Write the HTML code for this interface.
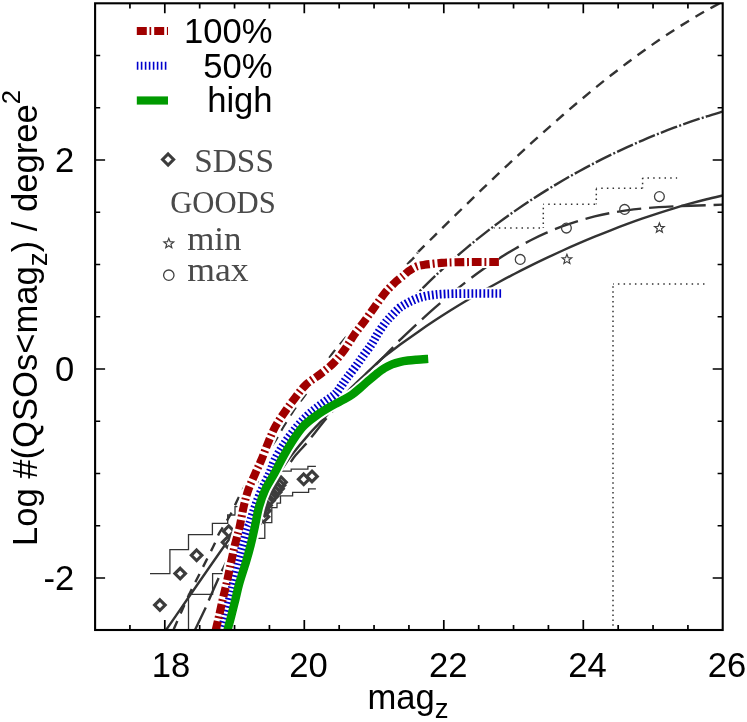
<!DOCTYPE html>
<html><head><meta charset="utf-8"><title>QSO counts</title>
<style>html,body{margin:0;padding:0;background:#fff;}svg{display:block;will-change:transform;}text{font-family:"Liberation Sans",sans-serif;fill:#000;}.sf{font-family:"Liberation Serif",serif;fill:#4a4a4a;}</style></head><body>
<svg width="747" height="722" viewBox="0 0 747 722">
<rect width="747" height="722" fill="#fff"/>
<defs><clipPath id="cp"><rect x="95.10" y="3.30" width="627.60" height="626.70"/></clipPath></defs>
<g clip-path="url(#cp)" fill="none">
<path d="M150.00,573.70 L169.90,573.70 L169.90,549.60 L188.50,549.60 L188.50,534.70 L212.40,534.70 L212.40,523.30 L227.70,523.30 L227.70,515.00 L235.00,515.00 L235.00,506.70 L243.00,506.70 L243.00,495.00 L250.00,495.00 L250.00,482.00 L265.00,482.00 L265.00,471.10 L291.20,471.10 L291.20,469.10 L307.90,469.10 L307.90,466.30 L315.90,466.30" stroke="#333333" stroke-width="1.3"/>
<path d="M188.50,630.00 L188.50,594.30 L212.60,594.30 L212.60,573.70 L228.00,573.70 L228.00,556.00 L245.00,556.00 L245.00,538.40 L264.80,538.40 L264.80,522.60 L271.80,522.60 L271.80,507.60 L277.00,507.60 L277.00,503.20 L280.50,503.20 L280.50,495.80 L292.60,495.80 L292.60,492.40 L308.60,492.40 L308.60,488.90 L315.90,488.90" stroke="#333333" stroke-width="1.3"/>
<path d="M493.90,228.10 L543.30,228.10" stroke="#333333" stroke-width="1.5" stroke-dasharray="1.5 4.17" stroke-dashoffset="0.75"/>
<path d="M543.30,228.10 L543.30,204.20" stroke="#333333" stroke-width="1.5" stroke-dasharray="1.5 3.40" stroke-dashoffset="0.75"/>
<path d="M543.30,204.20 L596.30,204.20" stroke="#333333" stroke-width="1.5" stroke-dasharray="1.5 4.17" stroke-dashoffset="0.75"/>
<path d="M596.30,204.20 L596.30,188.30" stroke="#333333" stroke-width="1.5" stroke-dasharray="1.5 3.40" stroke-dashoffset="0.75"/>
<path d="M596.30,188.30 L642.60,188.30" stroke="#333333" stroke-width="1.5" stroke-dasharray="1.5 4.17" stroke-dashoffset="0.75"/>
<path d="M642.60,188.30 L642.60,178.10" stroke="#333333" stroke-width="1.5" stroke-dasharray="1.5 3.40" stroke-dashoffset="0.75"/>
<path d="M642.60,178.10 L677.10,178.10" stroke="#333333" stroke-width="1.5" stroke-dasharray="1.5 4.17" stroke-dashoffset="0.75"/>
<path d="M613.00,630.00 L613.00,284.00" stroke="#333333" stroke-width="1.5" stroke-dasharray="1.5 3.40" stroke-dashoffset="0.75"/>
<path d="M613.00,284.00 L705.20,284.00" stroke="#333333" stroke-width="1.5" stroke-dasharray="1.5 4.17" stroke-dashoffset="0.75"/>
<path d="M722.70,1.70 C720.03,3.14 712.03,7.33 706.70,10.33 C701.37,13.32 696.03,16.44 690.70,19.66 C685.37,22.88 680.03,26.21 674.70,29.65 C669.37,33.09 664.03,36.63 658.70,40.27 C653.37,43.91 648.03,47.66 642.70,51.49 C637.37,55.32 632.03,59.25 626.70,63.27 C621.37,67.28 616.03,71.39 610.70,75.57 C605.37,79.75 600.03,84.02 594.70,88.36 C589.37,92.70 584.03,97.12 578.70,101.61 C573.37,106.09 568.03,110.66 562.70,115.28 C557.37,119.90 552.03,124.59 546.70,129.33 C541.37,134.07 536.03,138.88 530.70,143.73 C525.37,148.58 520.03,153.50 514.70,158.45 C509.37,163.40 504.03,168.41 498.70,173.45 C493.37,178.49 488.03,183.58 482.70,188.69 C477.37,193.81 472.03,198.97 466.70,204.15 C461.37,209.33 456.03,214.54 450.70,219.78 C445.37,225.01 440.03,230.28 434.70,235.55 C429.37,240.83 421.48,248.67 418.70,251.43 C415.92,254.19 418.90,250.98 418.00,252.12 C417.10,253.27 415.05,256.29 413.30,258.30 C411.55,260.31 412.22,258.75 407.50,264.20 C402.78,269.65 392.92,281.62 385.00,291.00 C377.08,300.38 367.17,312.00 360.00,320.50 C352.83,329.00 346.83,336.17 342.00,342.00 C337.17,347.83 335.33,349.58 331.00,355.50 C326.67,361.42 320.35,370.85 316.00,377.50 C311.65,384.15 307.72,391.18 304.90,395.40 C302.08,399.62 301.25,399.87 299.10,402.80 C296.95,405.73 294.68,408.88 292.00,413.00 C289.32,417.12 285.70,423.00 283.00,427.50 C280.30,432.00 278.80,435.42 275.80,440.00 C272.80,444.58 268.47,450.17 265.00,455.00 C261.53,459.83 256.67,466.67 255.00,469.00" stroke="#333333" stroke-width="2.4" stroke-dasharray="9.9 7.5" stroke-dashoffset="13.55"/>
<path d="M173.70,629.30 C176.08,623.92 183.45,606.72 188.00,597.00 C192.55,587.28 196.58,579.83 201.00,571.00 C205.42,562.17 211.67,549.92 214.50,544.00 C217.33,538.08 216.65,538.23 218.00,535.50 C219.35,532.77 220.40,531.32 222.60,527.60 C224.80,523.88 228.57,518.13 231.20,513.20 C233.83,508.27 235.93,502.87 238.40,498.00 C240.87,493.13 243.23,488.83 246.00,484.00 C248.77,479.17 253.50,471.50 255.00,469.00" stroke="#333333" stroke-width="2.4" stroke-dasharray="9.3 8"/>
<path d="M722.70,111.60 C720.03,112.41 712.03,114.75 706.70,116.44 C701.37,118.13 696.03,119.89 690.70,121.73 C685.37,123.57 680.03,125.49 674.70,127.48 C669.37,129.47 664.03,131.53 658.70,133.67 C653.37,135.80 648.03,138.01 642.70,140.30 C637.37,142.59 632.03,144.95 626.70,147.39 C621.37,149.82 616.03,152.34 610.70,154.93 C605.37,157.53 600.03,160.20 594.70,162.96 C589.37,165.71 584.03,168.55 578.70,171.48 C573.37,174.41 568.03,177.42 562.70,180.52 C557.37,183.63 552.03,186.82 546.70,190.12 C541.37,193.42 536.03,196.81 530.70,200.31 C525.37,203.81 520.03,207.41 514.70,211.12 C509.37,214.84 504.03,218.66 498.70,222.62 C493.37,226.57 488.03,230.63 482.70,234.83 C477.37,239.03 472.03,243.36 466.70,247.83 C461.37,252.30 456.03,256.90 450.70,261.66 C445.37,266.43 439.65,271.72 434.70,276.41 C429.75,281.09 424.62,286.28 421.00,289.80 C417.38,293.32 415.63,295.58 413.00,297.50 C410.37,299.42 406.50,300.67 405.20,301.30" stroke="#333333" stroke-width="2.4" stroke-dasharray="17.4 2.2 2.05 2.2" stroke-dashoffset="23.55"/>
<path d="M722.70,204.60 C720.03,204.70 712.03,205.03 706.70,205.21 C701.37,205.39 696.03,205.52 690.70,205.70 C685.37,205.87 680.03,206.03 674.70,206.27 C669.37,206.51 664.03,206.76 658.70,207.12 C653.37,207.48 648.03,207.88 642.70,208.42 C637.37,208.95 632.03,209.56 626.70,210.32 C621.37,211.07 616.03,211.93 610.70,212.95 C605.37,213.96 600.03,215.11 594.70,216.42 C589.37,217.73 584.03,219.19 578.70,220.83 C573.37,222.46 568.03,224.26 562.70,226.24 C557.37,228.22 552.03,230.38 546.70,232.72 C541.37,235.06 536.03,237.58 530.70,240.28 C525.37,242.99 520.03,245.88 514.70,248.95 C509.37,252.02 504.03,255.28 498.70,258.72 C493.37,262.15 488.03,265.77 482.70,269.55 C477.37,273.33 472.03,277.30 466.70,281.41 C461.37,285.52 456.03,289.80 450.70,294.22 C445.37,298.63 440.03,303.21 434.70,307.90 C429.37,312.59 424.03,317.42 418.70,322.34 C413.37,327.26 406.15,334.15 402.70,337.42 C399.25,340.68 399.70,340.20 398.00,341.94 C396.30,343.69 396.33,343.97 392.50,347.90 C388.67,351.83 380.42,359.98 375.00,365.50 C369.58,371.02 362.50,378.42 360.00,381.00" stroke="#333333" stroke-width="2.4" stroke-dasharray="24.4 7.9" stroke-dashoffset="15.3"/>
<path d="M195.10,629.70 C196.82,626.13 203.13,613.18 205.40,608.30 C207.67,603.42 206.55,605.33 208.70,600.40 C210.85,595.47 215.87,584.10 218.30,578.70 C220.73,573.30 220.47,573.58 223.30,568.00 C226.13,562.42 230.80,553.25 235.30,545.20 C239.80,537.15 245.85,527.23 250.30,519.70 C254.75,512.17 260.05,503.28 262.00,500.00" stroke="#333333" stroke-width="2.4" stroke-dasharray="24.4 7.8"/>
<path d="M290.70,462.00 C291.55,460.83 293.15,458.13 295.80,455.00 C298.45,451.87 304.03,446.13 306.60,443.20 C309.17,440.27 307.95,441.48 311.20,437.40 C314.45,433.32 321.30,424.47 326.10,418.70 C330.90,412.93 336.02,407.28 340.00,402.80 C343.98,398.32 346.67,395.43 350.00,391.80 C353.33,388.17 358.33,382.80 360.00,381.00" stroke="#333333" stroke-width="2.4" stroke-dasharray="24.4 7.8"/>
<path d="M722.70,195.48 C720.03,196.11 712.03,197.92 706.70,199.25 C701.37,200.58 696.03,201.99 690.70,203.46 C685.37,204.93 680.03,206.47 674.70,208.08 C669.37,209.68 664.03,211.36 658.70,213.09 C653.37,214.82 648.03,216.61 642.70,218.46 C637.37,220.31 632.03,222.23 626.70,224.19 C621.37,226.16 616.03,228.18 610.70,230.26 C605.37,232.34 600.03,234.48 594.70,236.67 C589.37,238.86 584.03,241.10 578.70,243.41 C573.37,245.71 568.03,248.06 562.70,250.47 C557.37,252.89 552.03,255.36 546.70,257.88 C541.37,260.41 536.03,262.99 530.70,265.64 C525.37,268.29 520.03,270.99 514.70,273.76 C509.37,276.53 504.03,279.36 498.70,282.26 C493.37,285.16 488.03,288.12 482.70,291.16 C477.37,294.20 472.03,297.31 466.70,300.50 C461.37,303.68 456.03,306.94 450.70,310.29 C445.37,313.64 440.03,317.06 434.70,320.58 C429.37,324.10 424.03,327.70 418.70,331.41 C413.37,335.12 408.03,338.91 402.70,342.82 C397.37,346.73 390.32,352.11 386.70,354.85 C383.08,357.60 384.62,356.03 381.00,359.30 C377.38,362.58 369.90,369.82 365.00,374.50 C360.10,379.18 356.10,382.73 351.60,387.40 C347.10,392.07 342.45,397.50 338.00,402.50 C333.55,407.50 329.72,412.13 324.90,417.40 C320.08,422.67 314.63,427.83 309.10,434.10 C303.57,440.37 296.28,449.10 291.70,455.00 C287.12,460.90 286.05,463.33 281.60,469.50 C277.15,475.67 270.27,484.92 265.00,492.00 C259.73,499.08 256.55,503.33 250.00,512.00 C243.45,520.67 239.63,524.42 225.70,544.00 C211.77,563.58 177.50,613.50 166.40,629.50 C155.30,645.50 160.32,638.25 159.10,640.00" stroke="#333333" stroke-width="2.4"/>
<path d="M159.90,599.80 L165.20,605.10 L159.90,610.40 L154.60,605.10 Z" fill="none" stroke="#3c3c3c" stroke-width="3.10" stroke-linejoin="miter"/>
<path d="M180.20,568.30 L185.50,573.60 L180.20,578.90 L174.90,573.60 Z" fill="none" stroke="#3c3c3c" stroke-width="3.10" stroke-linejoin="miter"/>
<path d="M196.60,550.00 L201.90,555.30 L196.60,560.60 L191.30,555.30 Z" fill="none" stroke="#3c3c3c" stroke-width="3.10" stroke-linejoin="miter"/>
<path d="M227.60,536.90 L232.90,542.20 L227.60,547.50 L222.30,542.20 Z" fill="none" stroke="#3c3c3c" stroke-width="3.10" stroke-linejoin="miter"/>
<path d="M228.70,525.90 L234.00,531.20 L228.70,536.50 L223.40,531.20 Z" fill="none" stroke="#3c3c3c" stroke-width="3.10" stroke-linejoin="miter"/>
<path d="M303.70,474.00 L309.00,479.30 L303.70,484.60 L298.40,479.30 Z" fill="none" stroke="#3c3c3c" stroke-width="3.10" stroke-linejoin="miter"/>
<path d="M312.00,471.10 L317.30,476.40 L312.00,481.70 L306.70,476.40 Z" fill="none" stroke="#3c3c3c" stroke-width="3.10" stroke-linejoin="miter"/>
<path d="M255.00,518.50 L260.30,523.80 L255.00,529.10 L249.70,523.80 Z" fill="none" stroke="#3c3c3c" stroke-width="3.10" stroke-linejoin="miter"/>
<path d="M263.50,511.50 L268.80,516.80 L263.50,522.10 L258.20,516.80 Z" fill="none" stroke="#3c3c3c" stroke-width="3.10" stroke-linejoin="miter"/>
<path d="M264.80,505.40 L270.10,510.70 L264.80,516.00 L259.50,510.70 Z" fill="none" stroke="#3c3c3c" stroke-width="3.10" stroke-linejoin="miter"/>
<path d="M266.00,500.10 L271.30,505.40 L266.00,510.70 L260.70,505.40 Z" fill="none" stroke="#3c3c3c" stroke-width="3.10" stroke-linejoin="miter"/>
<path d="M269.00,495.30 L274.30,500.60 L269.00,505.90 L263.70,500.60 Z" fill="none" stroke="#3c3c3c" stroke-width="3.10" stroke-linejoin="miter"/>
<path d="M272.50,491.00 L277.80,496.30 L272.50,501.60 L267.20,496.30 Z" fill="none" stroke="#3c3c3c" stroke-width="3.10" stroke-linejoin="miter"/>
<path d="M275.50,487.00 L280.80,492.30 L275.50,497.60 L270.20,492.30 Z" fill="none" stroke="#3c3c3c" stroke-width="3.10" stroke-linejoin="miter"/>
<path d="M278.00,483.40 L283.30,488.70 L278.00,494.00 L272.70,488.70 Z" fill="none" stroke="#3c3c3c" stroke-width="3.10" stroke-linejoin="miter"/>
<path d="M279.50,480.00 L284.80,485.30 L279.50,490.60 L274.20,485.30 Z" fill="none" stroke="#3c3c3c" stroke-width="3.10" stroke-linejoin="miter"/>
<path d="M281.00,476.90 L286.30,482.20 L281.00,487.50 L275.70,482.20 Z" fill="none" stroke="#3c3c3c" stroke-width="3.10" stroke-linejoin="miter"/>
<circle cx="520.20" cy="259.40" r="4.90" fill="none" stroke="#404040" stroke-width="1.30"/>
<circle cx="566.40" cy="228.10" r="4.90" fill="none" stroke="#404040" stroke-width="1.30"/>
<circle cx="624.60" cy="209.40" r="4.90" fill="none" stroke="#404040" stroke-width="1.30"/>
<circle cx="659.40" cy="196.60" r="4.90" fill="none" stroke="#404040" stroke-width="1.30"/>
<polygon points="566.90,254.30 568.19,257.62 571.75,257.82 568.99,260.08 569.90,263.53 566.90,261.60 563.90,263.53 564.81,260.08 562.05,257.82 565.61,257.62" fill="none" stroke="#404040" stroke-width="1.20" stroke-linejoin="miter"/>
<polygon points="659.40,223.00 660.69,226.32 664.25,226.52 661.49,228.78 662.40,232.23 659.40,230.30 656.40,232.23 657.31,228.78 654.55,226.52 658.11,226.32" fill="none" stroke="#404040" stroke-width="1.20" stroke-linejoin="miter"/>
<path d="M219.50,641.00 C219.92,639.00 221.03,633.07 222.00,629.00 C222.97,624.93 224.08,621.45 225.30,616.60 C226.52,611.75 227.97,605.45 229.30,599.90 C230.63,594.35 231.77,589.68 233.30,583.30 C234.83,576.92 236.92,568.00 238.50,561.60 C240.08,555.20 241.28,550.45 242.80,544.90 C244.32,539.35 246.45,531.92 247.60,528.30 C248.75,524.68 248.45,526.82 249.70,523.20 C250.95,519.58 253.10,512.15 255.10,506.60 C257.10,501.05 259.28,495.45 261.70,489.90 C264.12,484.35 267.42,478.30 269.60,473.30 C271.78,468.30 272.30,464.92 274.80,459.90 C277.30,454.88 280.88,448.75 284.60,443.20 C288.32,437.65 293.28,431.22 297.10,426.60 C300.92,421.98 304.27,418.62 307.50,415.50 C310.73,412.38 313.45,410.33 316.50,407.90 C319.55,405.47 322.68,403.22 325.80,400.90 C328.92,398.58 332.63,396.48 335.20,394.00 C337.77,391.52 339.23,388.70 341.20,386.00 C343.17,383.30 344.65,380.97 347.00,377.80 C349.35,374.63 352.53,370.75 355.30,367.00 C358.07,363.25 360.83,359.18 363.60,355.30 C366.37,351.42 369.42,347.52 371.90,343.70 C374.38,339.88 376.05,336.17 378.50,332.40 C380.95,328.63 384.27,324.03 386.60,321.10 C388.93,318.17 390.45,316.92 392.50,314.80 C394.55,312.68 396.68,310.22 398.90,308.40 C401.12,306.58 403.50,305.23 405.80,303.90 C408.10,302.57 410.40,301.43 412.70,300.40 C415.00,299.37 417.28,298.45 419.60,297.70 C421.92,296.95 424.28,296.37 426.60,295.90 C428.92,295.43 431.15,295.18 433.50,294.90 C435.85,294.62 437.42,294.40 440.70,294.20 C443.98,294.00 447.48,293.82 453.20,293.70 C458.92,293.58 467.02,293.53 475.00,293.50 C482.98,293.47 496.75,293.50 501.10,293.50" stroke="#fff" stroke-width="12.2"/>
<path d="M213.30,641.00 C213.75,639.00 215.07,633.07 216.00,629.00 C216.93,624.93 217.80,621.45 218.90,616.60 C220.00,611.75 221.32,605.45 222.60,599.90 C223.88,594.35 225.17,589.68 226.60,583.30 C228.03,576.92 229.82,568.00 231.20,561.60 C232.58,555.20 233.55,550.45 234.90,544.90 C236.25,539.35 237.83,534.68 239.30,528.30 C240.77,521.92 242.20,513.00 243.70,506.60 C245.20,500.20 246.37,495.45 248.30,489.90 C250.23,484.35 253.12,478.30 255.30,473.30 C257.48,468.30 259.30,464.92 261.40,459.90 C263.50,454.88 265.58,448.75 267.90,443.20 C270.22,437.65 272.45,431.87 275.30,426.60 C278.15,421.33 281.65,416.47 285.00,411.60 C288.35,406.73 291.87,401.92 295.40,397.40 C298.93,392.88 302.02,388.40 306.20,384.50 C310.38,380.60 315.92,377.62 320.50,374.00 C325.08,370.38 329.63,366.95 333.70,362.80 C337.77,358.65 341.42,353.87 344.90,349.10 C348.38,344.33 351.33,338.87 354.60,334.20 C357.87,329.53 361.12,325.70 364.50,321.10 C367.88,316.50 371.43,311.37 374.90,306.60 C378.37,301.83 382.52,295.97 385.30,292.50 C388.08,289.03 389.82,287.63 391.60,285.80 C393.38,283.97 394.07,283.17 396.00,281.50 C397.93,279.83 401.22,277.43 403.20,275.80 C405.18,274.17 405.80,273.20 407.90,271.70 C410.00,270.20 413.03,267.95 415.80,266.80 C418.57,265.65 420.22,265.45 424.50,264.80 C428.78,264.15 436.42,263.32 441.50,262.90 C446.58,262.48 449.42,262.45 455.00,262.30 C460.58,262.15 467.68,262.05 475.00,262.00 C482.32,261.95 494.92,262.00 498.90,262.00" stroke="#fff" stroke-width="12.2"/>
<path d="M225.00,641.00 C225.47,639.00 226.78,633.07 227.80,629.00 C228.82,624.93 229.85,621.45 231.10,616.60 C232.35,611.75 233.93,605.45 235.30,599.90 C236.67,594.35 237.50,589.68 239.30,583.30 C241.10,576.92 244.20,568.00 246.10,561.60 C248.00,555.20 249.30,550.45 250.70,544.90 C252.10,539.35 253.10,534.68 254.50,528.30 C255.90,521.92 257.33,513.00 259.10,506.60 C260.87,500.20 262.53,495.45 265.10,489.90 C267.67,484.35 271.78,478.30 274.50,473.30 C277.22,468.30 278.63,464.92 281.40,459.90 C284.17,454.88 287.68,448.53 291.10,443.20 C294.52,437.87 298.93,431.57 301.90,427.90 C304.87,424.23 306.58,423.18 308.90,421.20 C311.22,419.22 313.50,417.65 315.80,416.00 C318.10,414.35 320.40,412.78 322.70,411.30 C325.00,409.82 327.28,408.43 329.60,407.10 C331.92,405.77 334.28,404.53 336.60,403.30 C338.92,402.07 340.92,401.15 343.50,399.70 C346.08,398.25 349.32,396.55 352.10,394.60 C354.88,392.65 357.52,390.28 360.20,388.00 C362.88,385.72 365.53,383.20 368.20,380.90 C370.87,378.60 373.52,376.32 376.20,374.20 C378.88,372.08 381.67,369.85 384.30,368.20 C386.93,366.55 389.33,365.37 392.00,364.30 C394.67,363.23 397.63,362.43 400.30,361.80 C402.97,361.17 405.32,360.85 408.00,360.50 C410.68,360.15 413.03,359.97 416.40,359.70 C419.77,359.43 426.23,359.03 428.20,358.90" stroke="#fff" stroke-width="12.2"/>
<path d="M501.10,293.50 C496.75,293.50 482.98,293.47 475.00,293.50 C467.02,293.53 458.92,293.58 453.20,293.70 C447.48,293.82 443.98,294.00 440.70,294.20 C437.42,294.40 435.85,294.62 433.50,294.90 C431.15,295.18 428.92,295.43 426.60,295.90 C424.28,296.37 421.92,296.95 419.60,297.70 C417.28,298.45 415.00,299.37 412.70,300.40 C410.40,301.43 408.10,302.57 405.80,303.90 C403.50,305.23 401.12,306.58 398.90,308.40 C396.68,310.22 394.55,312.68 392.50,314.80 C390.45,316.92 388.93,318.17 386.60,321.10 C384.27,324.03 380.95,328.63 378.50,332.40 C376.05,336.17 374.38,339.88 371.90,343.70 C369.42,347.52 366.37,351.42 363.60,355.30 C360.83,359.18 358.07,363.25 355.30,367.00 C352.53,370.75 349.35,374.63 347.00,377.80 C344.65,380.97 343.17,383.30 341.20,386.00 C339.23,388.70 337.77,391.52 335.20,394.00 C332.63,396.48 328.92,398.58 325.80,400.90 C322.68,403.22 319.55,405.47 316.50,407.90 C313.45,410.33 310.73,412.38 307.50,415.50 C304.27,418.62 300.92,421.98 297.10,426.60 C293.28,431.22 288.32,437.65 284.60,443.20 C280.88,448.75 277.30,454.88 274.80,459.90 C272.30,464.92 271.78,468.30 269.60,473.30 C267.42,478.30 264.12,484.35 261.70,489.90 C259.28,495.45 257.10,501.05 255.10,506.60 C253.10,512.15 250.95,519.58 249.70,523.20 C248.45,526.82 248.75,524.68 247.60,528.30 C246.45,531.92 244.32,539.35 242.80,544.90 C241.28,550.45 240.08,555.20 238.50,561.60 C236.92,568.00 234.83,576.92 233.30,583.30 C231.77,589.68 230.63,594.35 229.30,599.90 C227.97,605.45 226.52,611.75 225.30,616.60 C224.08,621.45 222.97,624.93 222.00,629.00 C221.03,633.07 219.92,639.00 219.50,641.00" stroke="#0000cc" stroke-width="8.7" stroke-dasharray="1.75 2.22"/>
<path d="M498.90,262.00 C494.92,262.00 482.32,261.95 475.00,262.00 C467.68,262.05 460.58,262.15 455.00,262.30 C449.42,262.45 446.58,262.48 441.50,262.90 C436.42,263.32 428.78,264.15 424.50,264.80 C420.22,265.45 418.57,265.65 415.80,266.80 C413.03,267.95 410.00,270.20 407.90,271.70 C405.80,273.20 405.18,274.17 403.20,275.80 C401.22,277.43 397.93,279.83 396.00,281.50 C394.07,283.17 393.38,283.97 391.60,285.80 C389.82,287.63 388.08,289.03 385.30,292.50 C382.52,295.97 378.37,301.83 374.90,306.60 C371.43,311.37 367.88,316.50 364.50,321.10 C361.12,325.70 357.87,329.53 354.60,334.20 C351.33,338.87 348.38,344.33 344.90,349.10 C341.42,353.87 337.77,358.65 333.70,362.80 C329.63,366.95 325.08,370.38 320.50,374.00 C315.92,377.62 310.38,380.60 306.20,384.50 C302.02,388.40 298.93,392.88 295.40,397.40 C291.87,401.92 288.35,406.73 285.00,411.60 C281.65,416.47 278.15,421.33 275.30,426.60 C272.45,431.87 270.22,437.65 267.90,443.20 C265.58,448.75 263.50,454.88 261.40,459.90 C259.30,464.92 257.48,468.30 255.30,473.30 C253.12,478.30 250.23,484.35 248.30,489.90 C246.37,495.45 245.20,500.20 243.70,506.60 C242.20,513.00 240.77,521.92 239.30,528.30 C237.83,534.68 236.25,539.35 234.90,544.90 C233.55,550.45 232.58,555.20 231.20,561.60 C229.82,568.00 228.03,576.92 226.60,583.30 C225.17,589.68 223.88,594.35 222.60,599.90 C221.32,605.45 220.00,611.75 218.90,616.60 C217.80,621.45 216.93,624.93 216.00,629.00 C215.07,633.07 213.75,639.00 213.30,641.00" stroke="#a00000" stroke-width="8.1" stroke-dasharray="9.7 2.85 1.9 2.85"/>
<path d="M225.00,641.00 C225.47,639.00 226.78,633.07 227.80,629.00 C228.82,624.93 229.85,621.45 231.10,616.60 C232.35,611.75 233.93,605.45 235.30,599.90 C236.67,594.35 237.50,589.68 239.30,583.30 C241.10,576.92 244.20,568.00 246.10,561.60 C248.00,555.20 249.30,550.45 250.70,544.90 C252.10,539.35 253.10,534.68 254.50,528.30 C255.90,521.92 257.33,513.00 259.10,506.60 C260.87,500.20 262.53,495.45 265.10,489.90 C267.67,484.35 271.78,478.30 274.50,473.30 C277.22,468.30 278.63,464.92 281.40,459.90 C284.17,454.88 287.68,448.53 291.10,443.20 C294.52,437.87 298.93,431.57 301.90,427.90 C304.87,424.23 306.58,423.18 308.90,421.20 C311.22,419.22 313.50,417.65 315.80,416.00 C318.10,414.35 320.40,412.78 322.70,411.30 C325.00,409.82 327.28,408.43 329.60,407.10 C331.92,405.77 334.28,404.53 336.60,403.30 C338.92,402.07 340.92,401.15 343.50,399.70 C346.08,398.25 349.32,396.55 352.10,394.60 C354.88,392.65 357.52,390.28 360.20,388.00 C362.88,385.72 365.53,383.20 368.20,380.90 C370.87,378.60 373.52,376.32 376.20,374.20 C378.88,372.08 381.67,369.85 384.30,368.20 C386.93,366.55 389.33,365.37 392.00,364.30 C394.67,363.23 397.63,362.43 400.30,361.80 C402.97,361.17 405.32,360.85 408.00,360.50 C410.68,360.15 413.03,359.97 416.40,359.70 C419.77,359.43 426.23,359.03 428.20,358.90" stroke="#009a00" stroke-width="8.4"/>
</g>
<g stroke="#000" fill="none">
<rect x="95.10" y="3.30" width="627.60" height="626.70" stroke-width="2.1"/>
<path d="M129.93,630.00 v-5.10 M129.93,3.30 v5.10 M164.80,630.00 v-10.00 M164.80,3.30 v10.00 M199.68,630.00 v-5.10 M199.68,3.30 v5.10 M234.55,630.00 v-5.10 M234.55,3.30 v5.10 M269.43,630.00 v-5.10 M269.43,3.30 v5.10 M304.30,630.00 v-10.00 M304.30,3.30 v10.00 M339.18,630.00 v-5.10 M339.18,3.30 v5.10 M374.05,630.00 v-5.10 M374.05,3.30 v5.10 M408.93,630.00 v-5.10 M408.93,3.30 v5.10 M443.80,630.00 v-10.00 M443.80,3.30 v10.00 M478.68,630.00 v-5.10 M478.68,3.30 v5.10 M513.55,630.00 v-5.10 M513.55,3.30 v5.10 M548.42,630.00 v-5.10 M548.42,3.30 v5.10 M583.30,630.00 v-10.00 M583.30,3.30 v10.00 M618.17,630.00 v-5.10 M618.17,3.30 v5.10 M653.05,630.00 v-5.10 M653.05,3.30 v5.10 M687.92,630.00 v-5.10 M687.92,3.30 v5.10 M95.10,578.00 h10.00 M722.70,578.00 h-10.00 M95.10,525.75 h5.10 M722.70,525.75 h-5.10 M95.10,473.50 h5.10 M722.70,473.50 h-5.10 M95.10,421.25 h5.10 M722.70,421.25 h-5.10 M95.10,369.00 h10.00 M722.70,369.00 h-10.00 M95.10,316.75 h5.10 M722.70,316.75 h-5.10 M95.10,264.50 h5.10 M722.70,264.50 h-5.10 M95.10,212.25 h5.10 M722.70,212.25 h-5.10 M95.10,160.00 h10.00 M722.70,160.00 h-10.00 M95.10,107.75 h5.10 M722.70,107.75 h-5.10 M95.10,55.50 h5.10 M722.70,55.50 h-5.10" stroke-width="1.7"/>
</g>
<text transform="translate(171.10,677.30) scale(0.975,1)" font-size="35.5" text-anchor="middle">18</text>
<text transform="translate(308.40,677.30) scale(0.975,1)" font-size="35.5" text-anchor="middle">20</text>
<text transform="translate(448.20,677.30) scale(0.975,1)" font-size="35.5" text-anchor="middle">22</text>
<text transform="translate(587.50,677.30) scale(0.975,1)" font-size="35.5" text-anchor="middle">24</text>
<text transform="translate(727.00,677.30) scale(0.975,1)" font-size="35.5" text-anchor="middle">26</text>
<text transform="translate(74.20,171.80) scale(0.975,1)" font-size="35.5" text-anchor="end">2</text>
<text transform="translate(74.20,380.80) scale(0.975,1)" font-size="35.5" text-anchor="end">0</text>
<text transform="translate(74.20,589.80) scale(0.975,1)" font-size="35.5" text-anchor="end">-2</text>
<text transform="translate(367.50,708.60) scale(0.975,1)" font-size="35.5" text-anchor="start">mag<tspan font-size="28.4" dy="9.5">z</tspan></text>
<text transform="translate(37.30,546.00) rotate(-90) scale(0.975,1)" font-size="35.5" text-anchor="start">Log #(QSOs&lt;mag<tspan font-size="28.4" dy="9.5">z</tspan><tspan dy="-9.5">) / degree</tspan><tspan font-size="26.3" dy="-17.5">2</tspan></text>
<path d="M136.8,31 H168" stroke="#a00000" stroke-width="8" stroke-dasharray="10 2.7 1.7 3" fill="none"/>
<path d="M136.8,65.8 H167" stroke="#0000cc" stroke-width="8" stroke-dasharray="1.6 2.4" fill="none"/>
<path d="M136.8,100.5 H168" stroke="#009a00" stroke-width="8.2" fill="none"/>
<text transform="translate(272.60,42.80) scale(0.975,1)" font-size="35.5" text-anchor="end">100%</text>
<text transform="translate(272.60,77.80) scale(0.975,1)" font-size="35.5" text-anchor="end">50%</text>
<text transform="translate(272.60,111.50) scale(0.975,1)" font-size="35.5" text-anchor="end">high</text>
<path d="M168.10,154.00 L173.60,159.50 L168.10,165.00 L162.60,159.50 Z" fill="none" stroke="#3c3c3c" stroke-width="3.10" stroke-linejoin="miter"/>
<polygon points="168.80,238.40 170.09,241.72 173.65,241.92 170.89,244.18 171.80,247.63 168.80,245.70 165.80,247.63 166.71,244.18 163.95,241.92 167.51,241.72" fill="none" stroke="#404040" stroke-width="1.20" stroke-linejoin="miter"/>
<circle cx="168.80" cy="275.20" r="5.20" fill="none" stroke="#404040" stroke-width="1.30"/>
<text class="sf" x="194.3" y="171.7" font-size="33" textLength="79.6" lengthAdjust="spacingAndGlyphs">SDSS</text>
<text class="sf" x="170.2" y="213.1" font-size="32" textLength="105.5" lengthAdjust="spacingAndGlyphs">GOODS</text>
<text class="sf" x="187.2" y="249.7" font-size="34" textLength="54.3" lengthAdjust="spacingAndGlyphs">min</text>
<text class="sf" x="187.2" y="280.7" font-size="34" textLength="61.4" lengthAdjust="spacingAndGlyphs">max</text>
</svg></body></html>
